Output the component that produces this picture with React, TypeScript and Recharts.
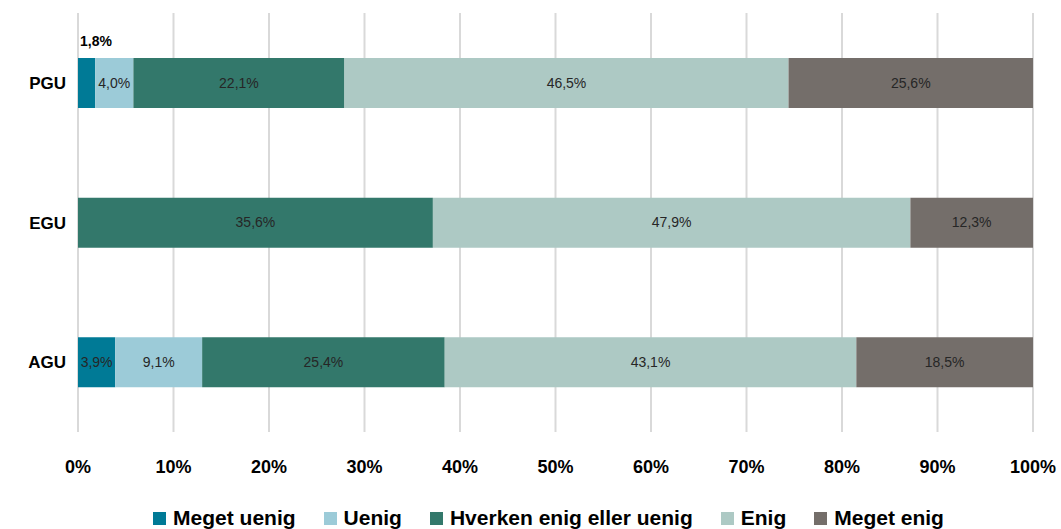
import React from "react";
import { BarChart, Bar, XAxis, YAxis, CartesianGrid, LabelList } from "recharts";

const categories = ["PGU", "EGU", "AGU"];
const megetUenig = [1.8, 0, 3.9];
const uenig = [4.0, 0, 9.1];
const hverken = [22.1, 35.6, 25.4];
const enig = [46.5, 47.9, 43.1];
const megetEnig = [25.6, 12.3, 18.5];
const xTicks = [0, 0.1, 0.2, 0.3, 0.4, 0.5, 0.6, 0.7, 0.8, 0.9, 1];

const series = [
  { key: "megetUenig", name: "Meget uenig", color: "#007a96" },
  { key: "uenig", name: "Uenig", color: "#9ccbd8" },
  { key: "hverken", name: "Hverken enig eller uenig", color: "#33786b" },
  { key: "enig", name: "Enig", color: "#adc9c4" },
  { key: "megetEnig", name: "Meget enig", color: "#746e6a" },
];

const data = categories.map((name, i) => ({
  name,
  megetUenig: megetUenig[i],
  uenig: uenig[i],
  hverken: hverken[i],
  enig: enig[i],
  megetEnig: megetEnig[i],
}));

const fmt = (v: number) => v.toFixed(1).replace(".", ",") + "%";

const makeLabel = (seriesKey: string) => (props: any) => {
  const { x, y, width, height, value } = props;
  const v = Number(value);
  if (!v) return null;
  if (seriesKey === "megetUenig" && v < 2.5) {
    return (
      <text x={x + 2} y={y - 16} fontSize={14} fontWeight="bold" fill="#000" fontFamily="Liberation Sans" dominantBaseline="middle">
        {fmt(v)}
      </text>
    );
  }
  return (
    <text
      x={x + width / 2}
      y={y + height / 2 + 1}
      textAnchor="middle"
      dominantBaseline="middle"
      fontSize={14}
      fill="#262626"
      fontFamily="Liberation Sans"
    >
      {fmt(v)}
    </text>
  );
};

export default function App() {
  return (
    <div style={{ position: "absolute", left: 0, top: 0, width: 1061, height: 529, background: "#fff", overflow: "hidden" }}>
      <BarChart
        width={1061}
        height={529}
        data={data}
        layout="vertical"
        stackOffset="expand"
        barSize={50}
        margin={{ top: 13, right: 28, left: 0, bottom: 37 }}
      >
        <CartesianGrid horizontal={false} stroke="#d9d9d9" strokeWidth={2} />
        <XAxis
          type="number"
          domain={[0, 1]}
          ticks={xTicks}
          tickFormatter={(v) => `${Math.round(v * 100)}%`}
          axisLine={false}
          tickLine={false}
          tickMargin={22}
          height={60}
          tick={{ fill: "#000", fontSize: 18, fontWeight: "bold", fontFamily: "Liberation Sans" }}
        />
        <YAxis
          type="category"
          dataKey="name"
          width={78}
          axisLine={false}
          tickLine={false}
          tickMargin={6}
          tick={{ fill: "#000", fontSize: 17, fontWeight: "bold", fontFamily: "Liberation Sans" }}
        />
        {series.map((s) => (
          <Bar key={s.key} dataKey={s.key} name={s.name} stackId="a" fill={s.color} isAnimationActive={false}>
            <LabelList dataKey={s.key} content={makeLabel(s.key)} />
          </Bar>
        ))}
      </BarChart>
      <div
        style={{
          position: "absolute",
          left: 0,
          top: 505,
          width: 1061,
          display: "flex",
          justifyContent: "center",
          paddingLeft: 36,
          boxSizing: "border-box",
          fontFamily: "Liberation Sans",
          fontWeight: "bold",
          fontSize: 21,
          lineHeight: "26px",
          color: "#000",
        }}
      >
        {series.map((s, i) => (
          <div key={s.key} style={{ display: "flex", alignItems: "center", marginRight: i < series.length - 1 ? 28 : 0 }}>
            <span style={{ width: 13, height: 13, background: s.color, display: "inline-block", marginRight: 7 }} />
            <span>{s.name}</span>
          </div>
        ))}
      </div>
    </div>
  );
}
